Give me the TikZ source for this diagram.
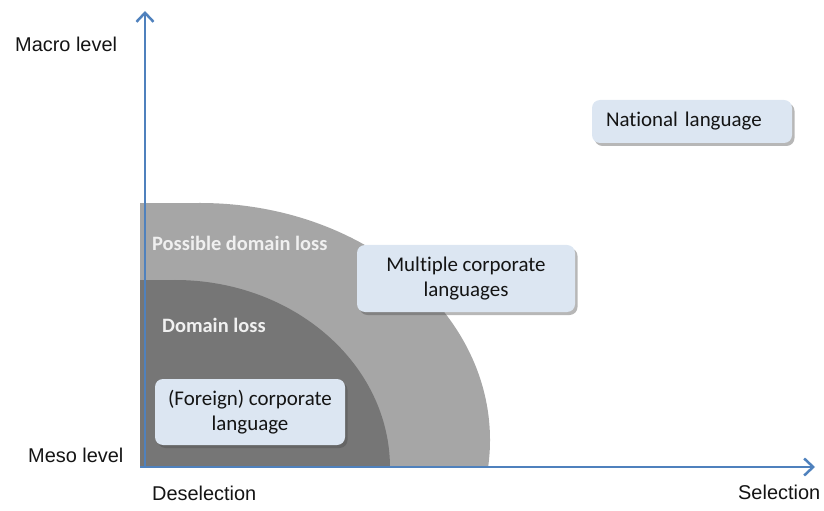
\documentclass[tikz,border=0pt]{standalone}
\usepackage{fontspec}
\setmainfont{Carlito}[Ligatures={NoCommon},RawFeature={-liga;-dlig}]
\newfontfamily\arialfont{Liberation Sans}
\usetikzlibrary{arrows.meta,shadows}
\definecolor{axisblue}{HTML}{4F81BD}
\definecolor{boxblue}{HTML}{DCE6F2}
\definecolor{lightzone}{HTML}{A6A6A6}
\definecolor{darkzone}{HTML}{767676}
\tikzset{
  axisline/.style={draw=axisblue,line width=2.5bp,-{Straight Barb[length=9bp,width=17bp,line width=2.5bp]}},
  infobox/.style={fill=boxblue,rounded corners=8bp,inner sep=0pt,align=center,
    font=\fontsize{21}{25}\selectfont,text=black!92,
    drop shadow={shadow xshift=2.5bp,shadow yshift=-3bp,opacity=0.4,fill=black!70}},
  zonelabel/.style={inner sep=0pt,anchor=west,text=white!94!black,font=\fontsize{20.5}{24}\selectfont\bfseries},
  axislabel/.style={inner sep=0pt,anchor=west,text=black!92,font=\arialfont\fontsize{20}{24}\selectfont},
}
\begin{document}
\begin{tikzpicture}[x=1bp,y=-1bp]
\useasboundingbox (0,0) rectangle (824,511);
% zones
\begin{scope}
  \clip (140,0) rectangle (824,467);
  \fill[lightzone] (200,440) ellipse [x radius=290bp, y radius=237bp];
  \fill[lightzone] (140,203) rectangle (200,467);
  \fill[darkzone] (175,468) ellipse [x radius=215bp, y radius=188bp];
  \fill[darkzone] (140,280) rectangle (176,467);
\end{scope}
% axes
\coordinate (O) at (145,467);
\coordinate (Xs) at (140,467);
\coordinate (ytop) at (145,11);
\coordinate (xend) at (815,467);
\draw[axisline] (O) -- (ytop);
\draw[axisline] (Xs) -- (xend);
% zone labels
\node[zonelabel] (pdl) at (152,243) {Possible domain loss};
\node[zonelabel] (dl) at (162,325) {Domain loss};
% boxes
\node[infobox,minimum width=200bp,minimum height=43bp,text width=172bp,align=left,inner xsep=14bp] (national) at (692,121.5) {National language};
\node[infobox,minimum width=218bp,minimum height=67bp] (multi) at (466,278.5) {Multiple corporate\\languages};
\node[infobox,minimum width=190bp,minimum height=66bp] (foreign) at (250,412) {(Foreign) corporate\\language};
% axis labels
\node[axislabel] (macro) at (15,44) {Macro level};
\node[axislabel] (meso) at (28,455) {Meso level};
\node[axislabel] (desel) at (152,493) {Deselection};
\node[axislabel] (sel) at (738,492) {Selection};
\end{tikzpicture}
\end{document}
